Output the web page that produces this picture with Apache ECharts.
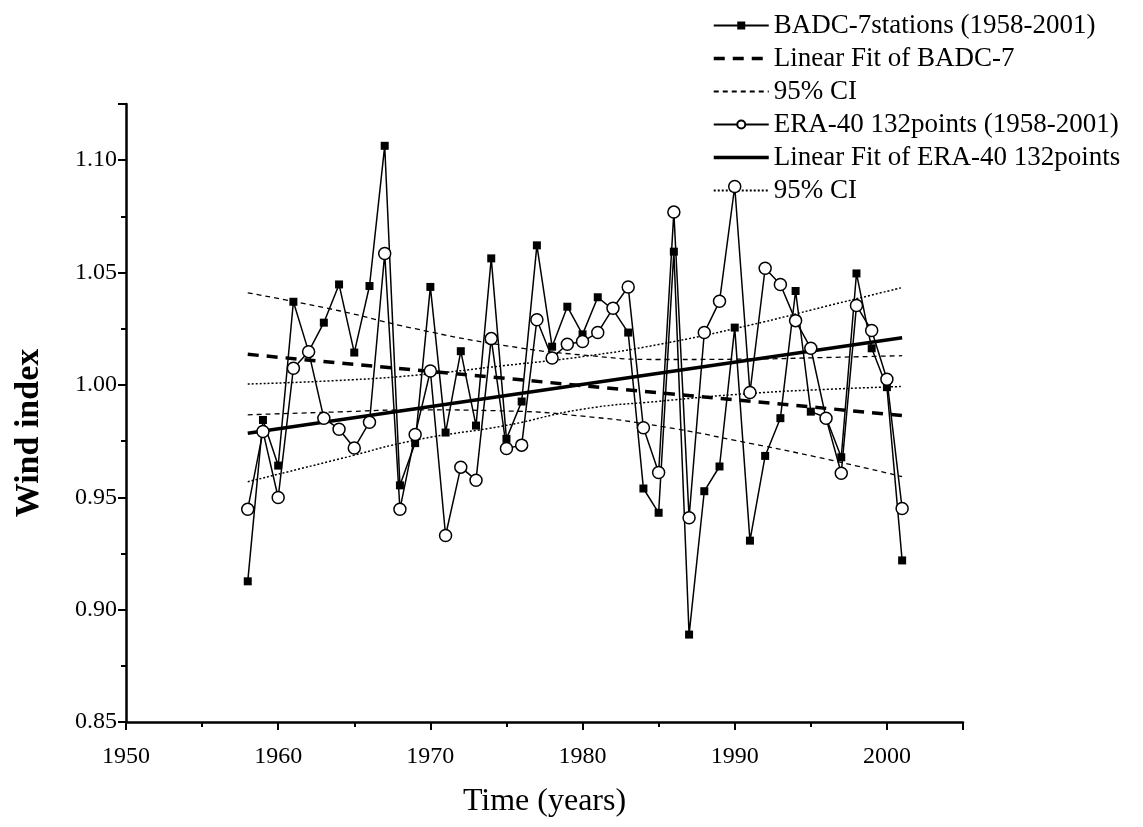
<!DOCTYPE html>
<html>
<head>
<meta charset="utf-8">
<script src="https://cdn.jsdelivr.net/npm/echarts@6/dist/echarts.min.js"></script>
<style>
  html, body { margin: 0; padding: 0; background: #fff; }
  #chart { width: 1143px; height: 827px; }
</style>
</head>
<body>
<div id="chart"></div>
<script>
// Annual wind index, 1958-2001
const years = [1958, 1959, 1960, 1961, 1962, 1963, 1964, 1965, 1966, 1967, 1968,
  1969, 1970, 1971, 1972, 1973, 1974, 1975, 1976, 1977, 1978, 1979, 1980,
  1981, 1982, 1983, 1984, 1985, 1986, 1987, 1988, 1989, 1990, 1991, 1992,
  1993, 1994, 1995, 1996, 1997, 1998, 1999, 2000, 2001];

// BADC, 7 stations
const badc = [0.9126, 0.9844, 0.9641, 1.0370, 1.0148, 1.0277, 1.0447, 1.0144, 1.0440, 1.1064, 0.9553,
  0.9741, 1.0436, 0.9788, 1.0150, 0.9819, 1.0563, 0.9760, 0.9926, 1.0621, 1.0170, 1.0348, 1.0225,
  1.0390, 1.0335, 1.0233, 0.9539, 0.9431, 1.0593, 0.8889, 0.9527, 0.9637, 1.0255, 0.9307, 0.9684,
  0.9852, 1.0418, 0.9881, 0.9855, 0.9678, 1.0496, 1.0163, 0.9990, 0.9219];

// ERA-40, 132 grid points
const era = [0.9447, 0.9793, 0.9499, 1.0074, 1.0148, 0.9852, 0.9803, 0.9719, 0.9834, 1.0585, 0.9447,
  0.9779, 1.0062, 0.9330, 0.9634, 0.9576, 1.0206, 0.9717, 0.9732, 1.0290, 1.0120, 1.0181, 1.0193,
  1.0233, 1.0341, 1.0436, 0.9809, 0.9610, 1.0769, 0.9409, 1.0233, 1.0372, 1.0883, 0.9966, 1.0519,
  1.0447, 1.0286, 1.0163, 0.9852, 0.9607, 1.0353, 1.0242, 1.0025, 0.9450];

// Linear fits (end points)
const fitYears = [1958, 2001];
const badcFit = [1.0136, 0.9864];
const eraFit = [0.9785, 1.0210];

// 95% confidence bands of the fits
const ciYears = [1958, 1964, 1969, 1975, 1980, 1985, 1991, 1996, 2001];
const badcUpper = [1.0410, 1.0330, 1.0250, 1.0174, 1.0133, 1.0113, 1.0115, 1.0122, 1.0130];
const badcLower = [0.9867, 0.9880, 0.9889, 0.9884, 0.9861, 0.9817, 0.9740, 0.9670, 0.9592];
const eraUpper = [1.0004, 1.0020, 1.0043, 1.0087, 1.0126, 1.0180, 1.0266, 1.0350, 1.0433];
const eraLower = [0.9569, 0.9670, 0.9754, 0.9820, 0.9892, 0.9927, 0.9962, 0.9980, 0.9993];

const legendNames = ['BADC-7stations (1958-2001)', 'Linear Fit of BADC-7', '95% CI',
  'ERA-40 132points (1958-2001)', 'Linear Fit of ERA-40 132points', '95% CI '];

const zip = (xs, ys) => xs.map((x, i) => [x, ys[i]]);
const FONT = 'Liberation Serif';
const isMultiple = (v, step) => Math.abs(v / step - Math.round(v / step)) < 1e-6;

const chart = echarts.init(document.getElementById('chart'), null, { renderer: 'canvas' });

// plain black line without markers (fits and confidence bands)
const plainLine = (name, xs, ys, dash, width, smooth) => ({
  name, type: 'line', data: zip(xs, ys), smooth, symbol: 'none',
  lineStyle: { color: '#000', width, type: dash },
  itemStyle: { color: '#000', opacity: 0 },
  z: 2, silent: true
});

// legend entries; the fit lines keep their full stroke width in the key
const legendData = legendNames.map((name, i) => {
  const item = { name };
  if (i === 1 || i === 4) item.lineStyle = { width: 3.5 };
  return item;
});

chart.setOption({
  animation: false,
  backgroundColor: '#fff',
  grid: { left: 126, right: 180, top: 104, bottom: 105 },
  legend: {
    data: legendData,
    orient: 'vertical',
    left: 707, top: 7,
    itemWidth: 55, itemHeight: 10, itemGap: 6,
    textStyle: { fontFamily: FONT, fontSize: 27, color: '#000', lineHeight: 27 },
    formatter: n => n.trim(),
    selectedMode: false
  },
  xAxis: {
    type: 'value', min: 1950, max: 2005, interval: 10,
    name: 'Time (years)', nameLocation: 'middle', nameGap: 64,
    nameTextStyle: { fontFamily: FONT, fontSize: 32, color: '#000' },
    axisLine: { show: true, onZero: false, lineStyle: { color: '#000', width: 2.5 } },
    axisTick: { show: true, inside: false, length: 8, lineStyle: { color: '#000', width: 2 } },
    minorTick: { show: true, splitNumber: 2, length: 5, lineStyle: { color: '#000', width: 2 } },
    axisLabel: {
      fontFamily: FONT, fontSize: 24, color: '#000', margin: 23,
      formatter: v => isMultiple(v, 10) ? String(v) : ''
    },
    splitLine: { show: false }
  },
  yAxis: {
    type: 'value', min: 0.85, max: 1.125, interval: 0.05,
    name: 'Wind index', nameLocation: 'middle', nameGap: 80,
    nameTextStyle: { fontFamily: FONT, fontSize: 34, fontWeight: 'bold', color: '#000', padding: [0, 40, 0, 0] },
    axisLine: { show: true, onZero: false, lineStyle: { color: '#000', width: 2.5 } },
    axisTick: { show: true, inside: false, length: 8, lineStyle: { color: '#000', width: 2 } },
    minorTick: { show: true, splitNumber: 2, length: 5, lineStyle: { color: '#000', width: 2 } },
    axisLabel: {
      fontFamily: FONT, fontSize: 24, color: '#000', margin: 9,
      formatter: v => isMultiple(v, 0.05) ? v.toFixed(2) : ''
    },
    splitLine: { show: false }
  },
  series: [
    {
      name: legendNames[0], type: 'line', data: zip(years, badc),
      symbol: 'rect', symbolSize: 8, showAllSymbol: true,
      lineStyle: { color: '#000', width: 1.5 },
      itemStyle: { color: '#000', borderWidth: 0 }, z: 3
    },
    plainLine(legendNames[1], fitYears, badcFit, [11, 8], 3.5, false),
    plainLine(legendNames[2], ciYears, badcUpper, [5, 4], 1.3, true),
    plainLine(legendNames[2], ciYears, badcLower, [5, 4], 1.3, true),
    {
      name: legendNames[3], type: 'line', data: zip(years, era),
      symbol: 'circle', symbolSize: 12, showAllSymbol: true,
      lineStyle: { color: '#000', width: 1.5 },
      itemStyle: { color: '#fff', borderColor: '#000', borderWidth: 1.5 }, z: 4
    },
    plainLine(legendNames[4], fitYears, eraFit, 'solid', 3.5, false),
    plainLine(legendNames[5], ciYears, eraUpper, [2, 2], 1.5, true),
    plainLine(legendNames[5], ciYears, eraLower, [2, 2], 1.5, true)
  ]
});
</script>
</body>
</html>
